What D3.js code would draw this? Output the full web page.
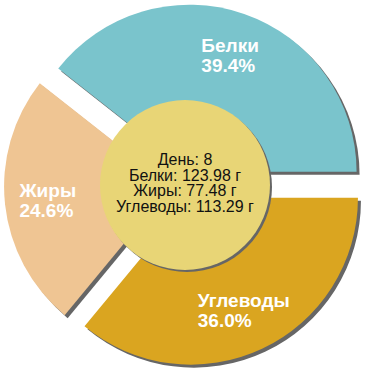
<!DOCTYPE html>
<html>
<head>
<meta charset="utf-8">
<script src="https://cdn.jsdelivr.net/npm/d3@7"></script>
<style>
  body { margin: 0; background: #fff; }
  text { font-family: "Liberation Sans", Arial, sans-serif; }
</style>
</head>
<body>
<div id="chart"></div>
<script>
// nutrients, shares and grams
const nutrients = ["Белки", "Жиры", "Углеводы"];
const shares = [39.4, 24.6, 36.0];
const grams = [123.98, 77.48, 113.29];
const day = 8;

const colorScale = d3.scaleOrdinal().domain(nutrients).range(["#7ac4cc", "#efc593", "#daa520"]);

const width = 370, height = 370;
const cx = 185, cy = 185;
const outerR = 167;
const innerCircleR = 85;
const explode = 14;
const labelR = 138;

const svg = d3.select("#chart").append("svg").attr("width", width).attr("height", height);
const g = svg.append("g").attr("transform", `translate(${cx},${cy})`);

// counterclockwise from 3 o'clock
const pie = d3.pie().sort(null).value(d => d.share)
    .startAngle(Math.PI / 2).endAngle(Math.PI / 2 - 2 * Math.PI);
const data = nutrients.map((n, i) => ({name: n, share: shares[i]}));
const arcs = pie(data);

const arc = d3.arc().innerRadius(0).outerRadius(outerR);

const mid = d => (d.startAngle + d.endAngle) / 2;
const offset = (d, r) => [Math.sin(mid(d)) * r, -Math.cos(mid(d)) * r];

// shadows first
g.selectAll("path.shadow")
    .data(arcs)
    .join("path")
    .attr("class", "shadow")
    .attr("d", arc)
    .attr("fill", "#666")
    .attr("transform", d => { const [x, y] = offset(d, explode); return `translate(${x + 3},${y + 3})`; });

g.selectAll("path.slice")
    .data(arcs)
    .join("path")
    .attr("class", "slice")
    .attr("d", arc)
    .attr("fill", d => colorScale(d.data.name))
    .attr("transform", d => { const [x, y] = offset(d, explode); return `translate(${x},${y})`; });

// centre disc
g.append("circle").attr("cx", 2).attr("cy", 2).attr("r", innerCircleR).attr("fill", "#666");
g.append("circle").attr("r", innerCircleR).attr("fill", "#e8d576");

// slice labels, two left-aligned lines
const labels = g.selectAll("g.label")
    .data(arcs)
    .join("g")
    .attr("class", "label");

labels.each(function(d) {
    const el = d3.select(this);
    const t1 = el.append("text").text(d.data.name);
    const t2 = el.append("text").text(d.data.share.toFixed(1) + "%").attr("y", 20);
    el.selectAll("text")
        .attr("fill", "#fff")
        .attr("font-weight", "bold")
        .attr("font-size", 19);
    const w = Math.max(t1.node().getComputedTextLength(), t2.node().getComputedTextLength());
    const [x, y] = offset(d, labelR);
    el.attr("transform", `translate(${x - w / 2},${y - 3})`);
});

// centre text
const lines = [`День: ${day}`].concat(nutrients.map((n, i) => `${n}: ${grams[i].toFixed(2)} г`));
g.selectAll("text.info")
    .data(lines)
    .join("text")
    .attr("class", "info")
    .attr("text-anchor", "middle")
    .attr("y", (d, i) => -20 + i * 15.5)
    .attr("font-size", 16)
    .attr("fill", "#111")
    .text(d => d);
</script>
</body>
</html>
